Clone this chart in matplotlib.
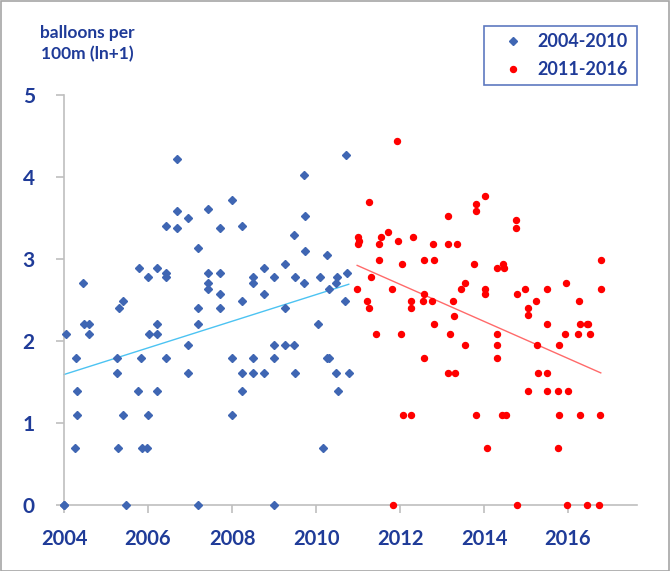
import numpy as np
import matplotlib
matplotlib.use("Agg")
import matplotlib.pyplot as plt
from matplotlib.patches import Rectangle

# ---- data ----
years_0410 = [2004.0, 2004.0, 2004.05, 2004.28, 2004.32, 2004.32, 2004.25, 2004.46, 2004.48, 2004.60,
              2004.60, 2005.30, 2005.41, 2005.25, 2005.25, 2005.41, 2005.29, 2005.47, 2005.79, 2006.00,
              2006.03, 2005.83, 2005.76, 2006.00, 2005.86, 2005.98, 2006.21, 2006.21, 2006.21, 2006.44,
              2006.21, 2006.44, 2006.44, 2006.44, 2006.70, 2006.70, 2006.70, 2006.95, 2006.95, 2006.95,
              2007.19, 2007.19, 2007.19, 2007.19, 2007.44, 2007.44, 2007.44, 2007.44, 2007.71, 2007.71,
              2007.71, 2007.71, 2008.00, 2008.00, 2008.00, 2008.24, 2008.24, 2008.24, 2008.24, 2008.50,
              2008.50, 2008.50, 2008.50, 2008.75, 2008.75, 2008.75, 2008.99, 2008.99, 2008.99, 2008.99,
              2009.25, 2009.25, 2009.25, 2009.48, 2009.48, 2009.50, 2009.50, 2009.72, 2009.73, 2009.74,
              2009.72, 2010.05, 2010.09, 2010.17, 2010.27, 2010.27, 2010.30, 2010.31, 2010.48, 2010.51,
              2010.48, 2010.53, 2010.70, 2010.74, 2010.72, 2010.78]
vals_0410 = [0.00, 0.00, 2.08, 1.79, 1.39, 1.10, 0.70, 2.71, 2.20, 2.20,
             2.08, 2.40, 2.49, 1.79, 1.61, 1.10, 0.70, 0.00, 2.89, 2.78,
             2.08, 1.79, 1.39, 1.10, 0.70, 0.70, 2.89, 2.20, 2.08, 1.79,
             1.39, 2.83, 2.78, 3.40, 4.22, 3.58, 3.37, 3.50, 1.95, 1.61,
             3.13, 2.40, 2.20, 0.00, 3.61, 2.83, 2.71, 2.63, 3.37, 2.83,
             2.57, 2.40, 3.72, 1.79, 1.10, 3.40, 2.48, 1.61, 1.39, 2.78,
             2.71, 1.79, 1.61, 2.89, 2.57, 1.61, 2.78, 1.95, 1.79, 0.00,
             2.94, 2.40, 1.95, 3.29, 1.95, 2.78, 1.61, 4.02, 3.52, 3.10,
             2.71, 2.20, 2.78, 0.70, 3.05, 1.79, 1.79, 2.63, 2.71, 2.78,
             1.61, 1.39, 2.48, 2.83, 4.27, 1.61]

years_1116 = [2010.98, 2011.00, 2011.01, 2011.02, 2011.25, 2011.30, 2011.21, 2011.27, 2011.44, 2011.94,
              2011.55, 2011.51, 2011.51, 2011.72, 2011.82, 2011.83, 2011.95, 2012.05, 2012.03, 2012.06,
              2012.30, 2012.25, 2012.27, 2012.27, 2012.56, 2012.54, 2012.56, 2012.56, 2012.79, 2012.80,
              2012.76, 2012.80, 2013.14, 2013.14, 2013.14, 2013.18, 2013.27, 2013.28, 2013.36, 2013.32,
              2013.46, 2013.54, 2013.55, 2013.77, 2013.81, 2013.81, 2013.80, 2014.02, 2014.03, 2014.03,
              2014.07, 2014.30, 2014.32, 2014.30, 2014.31, 2014.46, 2014.48, 2014.43, 2014.52, 2014.75,
              2014.75, 2014.79, 2014.79, 2014.97, 2015.05, 2015.05, 2015.05, 2015.24, 2015.26, 2015.29,
              2015.49, 2015.49, 2015.51, 2015.49, 2015.75, 2015.75, 2015.79, 2015.79, 2015.93, 2015.95,
              2015.98, 2016.00, 2016.26, 2016.24, 2016.29, 2016.29, 2016.45, 2016.48, 2016.46, 2016.52,
              2016.74, 2016.76, 2016.78, 2016.78]
vals_1116 = [2.63, 3.18, 3.26, 3.22, 3.69, 2.78, 2.48, 2.40, 2.08, 4.44,
             3.26, 3.18, 2.99, 3.33, 2.63, 0.00, 3.22, 2.94, 2.08, 1.10,
             3.26, 2.48, 2.40, 1.10, 2.99, 2.48, 2.57, 1.79, 3.18, 2.99,
             2.48, 2.20, 3.52, 3.18, 1.61, 2.08, 2.48, 2.30, 3.18, 1.61,
             2.63, 2.71, 1.95, 2.94, 3.67, 3.58, 1.10, 3.76, 2.63, 2.57,
             0.70, 2.89, 2.08, 1.95, 1.79, 2.94, 2.89, 1.10, 1.10, 3.47,
             3.37, 2.57, 0.00, 2.63, 2.40, 2.31, 1.39, 2.49, 1.95, 1.61,
             2.63, 2.20, 1.61, 1.39, 1.39, 0.70, 1.95, 1.10, 2.08, 2.71,
             0.00, 1.39, 2.49, 2.08, 2.20, 1.10, 2.20, 2.20, 0.00, 2.08,
             0.00, 1.10, 2.99, 2.63]

# linear trend lines as drawn in the reference (start/end years and values)
trend_0410_x = [2004.0, 2010.78]
trend_0410_y = [1.59, 2.69]
trend_1116_x = [2010.98, 2016.78]
trend_1116_y = [2.92, 1.61]

label_0410 = "2004-2010"
label_1116 = "2011-2016"
x_ticks = [2004, 2006, 2008, 2010, 2012, 2014, 2016]
y_ticks = [0, 1, 2, 3, 4, 5]
y_title = "balloons per\n100m (ln+1)"

# ---- style ----
TXT = "#1F3B98"
AX = "#BFBFBF"
BLUE = "#3F66B3"
RED = "#FF0000"
plt.rcParams["font.family"] = ["Lato", "DejaVu Sans"]

fig = plt.figure(figsize=(6.7, 5.71), dpi=100)
ax = fig.add_axes([64 / 670, 1 - 505 / 571, (637 - 64) / 670, (505 - 94.7) / 571])

ax.plot(years_0410, vals_0410, linestyle="none", marker="D", markersize=3.8,
        color=BLUE, label=label_0410, zorder=3)
ax.plot(years_1116, vals_1116, linestyle="none", marker="o", markersize=4.3,
        color=RED, label=label_1116, zorder=3)

ax.plot(trend_0410_x, trend_0410_y, color="#4CC3F2", linewidth=1.0, zorder=2)
ax.plot(trend_1116_x, trend_1116_y, color="#FF6A6A", linewidth=1.0, zorder=2)

ax.set_xlim(2004, 2004 + (637 - 64) / 42.0)
ax.set_ylim(0, 5)
ax.set_xticks(x_ticks)
ax.set_yticks(y_ticks)
ax.set_xticklabels([str(t) for t in x_ticks])
ax.set_yticklabels([str(t) for t in y_ticks])
for s in ["top", "right"]:
    ax.spines[s].set_visible(False)
for s in ["left", "bottom"]:
    ax.spines[s].set_color(AX)
    ax.spines[s].set_linewidth(1.2)
ax.tick_params(axis="both", direction="out", color=AX, width=1.2, length=6,
               labelcolor=TXT)
ax.tick_params(axis="x", labelsize=14.5, pad=11)
ax.tick_params(axis="y", labelsize=15, pad=15)
for lab in ax.get_xticklabels() + ax.get_yticklabels():
    lab.set_fontweight("bold")
for ln in ax.lines:
    ln.set_clip_on(False)

fig.text(87 / 670, 1 - 43.5 / 571, y_title, ha="center", va="center",
         color=TXT, fontsize=12.5, fontweight="bold", linespacing=1.35)

leg = ax.legend(loc="upper left", bbox_to_anchor=(484 / 670, 1 - 82 / 571, 153 / 670, 56 / 571),
                bbox_transform=fig.transFigure, mode="expand", frameon=True, fancybox=False,
                handlelength=2.4, handletextpad=0.15, borderpad=0.4, labelspacing=0.6,
                prop={"size": 13, "weight": "bold"}, borderaxespad=0)
leg.get_frame().set_edgecolor("#3558B0")
leg.get_frame().set_linewidth(1.2)
for t in leg.get_texts():
    t.set_color(TXT)

fig.patches.append(Rectangle((0.5 / 670, 0.5 / 571), 1 - 1.5 / 670, 1 - 1.5 / 571,
                             transform=fig.transFigure, fill=False, edgecolor="#A6A6A6",
                             linewidth=1.2))

fig.savefig("out.png", dpi=100)
